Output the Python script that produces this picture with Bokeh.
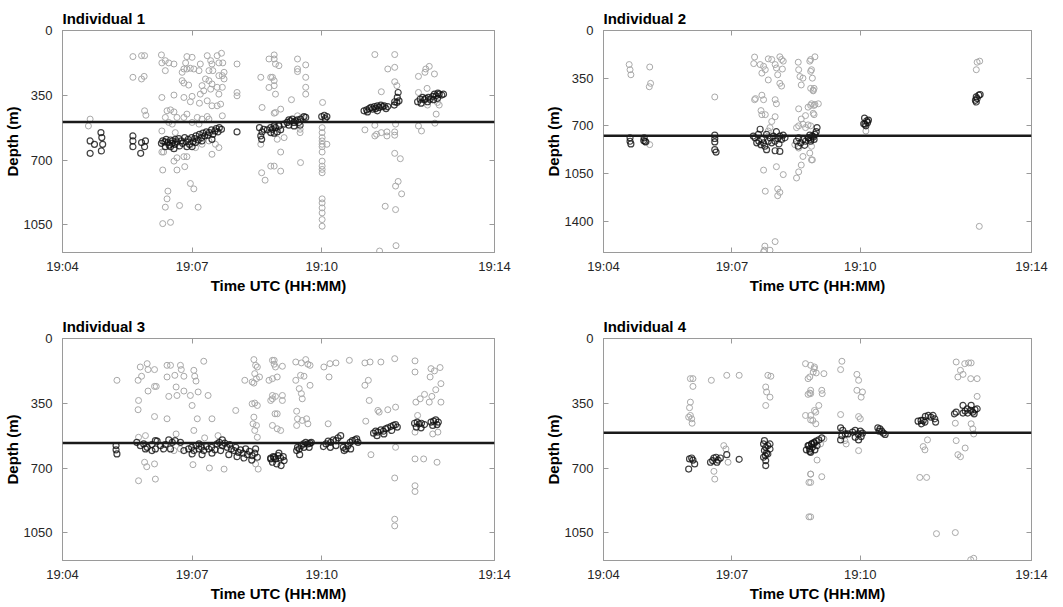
from bokeh.plotting import figure
from bokeh.layouts import column, row
from bokeh.models import Range1d, FixedTicker, LinearAxis, Span, CustomJSTickFormatter
from bokeh.embed import file_html
from bokeh.resources import INLINE

# ---------------- data (time = minutes after 19:00 UTC, depth in m) ----------------
tick_minutes = [4, 7, 10, 14]
tick_labels = ["19:04", "19:07", "19:10", "19:14"]
titles = ["Individual 1", "Individual 2", "Individual 3", "Individual 4"]
ref_depths = [494, 772, 565, 510]
depth_max = [1200, 1630, 1200, 1200]
depth_ticks = [[0, 350, 700, 1050], [0, 350, 700, 1050, 1400], [0, 350, 700, 1050], [0, 350, 700, 1050]]

# ---- Individual 1 ----
p1_grey_t = [4.64, 4.60, 5.63, 5.83, 5.90, 5.63, 5.83, 5.89, 5.90, 5.93,
             6.29, 6.30, 6.38, 6.38, 6.46, 6.58, 6.88, 7.00, 6.85, 6.81, 6.88, 6.96, 7.04, 6.77, 7.19, 7.16,
             7.35, 7.43, 7.46, 7.58, 7.68, 7.62, 7.71, 7.39, 7.48, 7.62, 7.70, 7.74, 7.74, 7.70, 7.58, 7.46,
             7.39, 7.31, 7.23, 7.27, 7.19, 7.43, 7.62, 6.77, 6.81, 6.92, 6.58, 6.30, 6.81, 7.00, 6.96, 7.17,
             7.35, 7.46, 7.58, 7.66, 6.42, 6.50, 6.58, 6.38, 6.54, 6.65, 6.81, 6.88, 7.00, 7.12, 7.16, 7.23,
             7.35, 7.39, 7.70, 6.46, 6.30, 6.61,
             6.30, 6.34, 6.58, 6.65, 6.81, 6.88, 6.32, 6.65, 6.83, 6.96, 7.04, 6.44, 6.42, 6.38, 6.71, 7.14,
             6.32, 6.50, 7.46, 7.62, 7.08, 7.23, 7.39, 7.54,
             8.04, 8.04, 8.04,
             8.59, 8.78, 8.82, 8.78, 8.90, 8.62, 8.90, 8.59, 8.61, 8.69, 8.82,
             8.90, 8.93, 9.01, 8.86, 8.90, 8.90, 8.93, 9.44, 9.44, 9.44, 9.63, 9.63, 9.63, 9.63, 9.30, 9.05,
             8.93, 9.44, 9.55, 9.13, 9.05, 9.05, 9.51, 8.90, 8.97, 9.50, 9.50, 10.02,
             10.01, 10.01, 10.01, 10.01, 10.01, 10.01, 10.01, 10.01, 10.01, 10.01, 10.01, 10.01, 10.01,
             10.01, 10.01, 10.01, 10.01, 10.12,
             11.23, 11.69, 11.53, 11.69, 11.69, 11.74, 11.38, 11.00, 11.23, 11.27, 11.23, 11.38, 11.51,
             11.51, 11.71, 11.69, 11.69, 11.69, 11.82, 11.77, 11.71, 11.85, 11.47, 11.71, 11.72, 11.34,
             12.24, 12.41, 12.49, 12.39, 12.61, 12.44, 12.24, 12.65, 12.24, 12.31, 12.62, 12.45, 12.72, 12.68]
p1_grey_d = [479, 516, 141, 136, 136, 253, 262, 248, 434, 458,
             132, 175, 163, 217, 175, 181, 141, 145, 175, 208, 208, 204, 208, 226, 181, 217,
             136, 163, 181, 136, 123, 175, 175, 217, 217, 244, 244, 226, 262, 307, 307, 289,
             271, 262, 298, 326, 344, 317, 344, 271, 284, 295, 349, 362, 362, 356, 385, 393,
             380, 407, 407, 398, 434, 429, 440, 470, 506, 470, 470, 452, 497, 470, 506, 479,
             465, 479, 461, 497, 543, 552,
             657, 657, 706, 688, 682, 682, 754, 754, 736, 827, 856, 868, 910, 955, 946, 955,
             1044, 1037, 669, 633, 633, 615, 597, 615,
             181, 335, 353,
             253, 154, 253, 308, 154, 416, 447, 615, 769, 809, 733,
             132, 181, 190, 253, 271, 298, 344, 154, 208, 222, 186, 253, 307, 344, 374, 425,
             443, 461, 470, 579, 657, 760, 714, 733, 588, 552, 534, 389,
             525, 552, 579, 597, 615, 628, 657, 706, 733, 751, 769, 910, 932,
             959, 986, 1022, 1058, 615,
             130, 130, 208, 199, 277, 298, 331, 537, 512, 561, 570, 552, 548,
             570, 506, 548, 566, 664, 693, 816, 841, 883, 950, 968, 1163, 1192,
             248, 208, 194, 226, 235, 313, 335, 452, 516, 543, 501, 403, 403, 389]
p1_fish_t = [4.64, 4.74, 4.64, 4.89, 4.91, 4.93, 4.90,
             5.63, 5.63, 5.63, 5.83, 5.81, 5.92, 5.90,
             6.29, 6.32, 6.37, 6.40, 6.44, 6.47, 6.50, 6.54, 6.55, 6.60, 6.61, 6.65, 6.69, 6.71, 6.75, 6.78,
             6.83, 6.86, 6.91, 6.94, 6.99, 7.02, 7.06, 7.09, 7.14, 7.17, 7.22, 7.25, 7.29, 7.33, 7.37, 7.40,
             7.45, 7.48, 7.53, 7.56, 7.60, 7.63, 7.68, 6.58, 6.50, 7.00, 7.08, 7.23, 7.46, 6.38, 6.88,
             8.04,
             8.56, 8.62, 8.66, 8.74, 8.82, 8.90, 8.59, 8.61, 8.86, 8.93, 9.01, 8.90, 8.97, 9.05, 8.82, 9.13,
             9.20, 9.24, 9.28, 9.32, 9.36, 9.40, 9.44, 9.47, 9.51, 9.59, 9.63, 9.24, 9.36, 9.50,
             10.00, 10.06, 10.12, 10.08,
             10.98, 11.04, 11.10, 11.14, 11.18, 11.22, 11.25, 11.29, 11.33, 11.37, 11.41, 11.45, 11.49,
             11.53, 11.06, 11.29,
             11.69, 11.74, 11.79, 11.68, 11.75, 11.77,
             12.22, 12.28, 12.34, 12.38, 12.41, 12.47, 12.51, 12.57, 12.61, 12.65, 12.69, 12.72, 12.78,
             12.82, 12.30, 12.45, 12.59, 12.68]
p1_fish_d = [597, 615, 664, 552, 579, 615, 651,
             570, 597, 628, 606, 664, 597, 628,
             610, 597, 602, 588, 606, 620, 592, 610, 597, 615, 588, 602, 584, 624, 597, 610,
             579, 602, 588, 615, 579, 602, 584, 570, 592, 561, 579, 555, 570, 548, 566, 552,
             537, 561, 543, 530, 548, 525, 534, 639, 628, 628, 606, 597, 588, 628, 628,
             548,
             525, 548, 534, 537, 525, 516, 570, 588, 534, 525, 516, 555, 548, 537, 552, 506,
             497, 483, 488, 479, 497, 488, 483, 497, 479, 465, 470, 512, 516, 512,
             465, 458, 465, 476,
             434, 429, 422, 416, 425, 411, 422, 407, 416, 403, 412, 407, 422,
             411, 440, 434,
             385, 389, 380, 403, 362, 335,
             385, 371, 362, 374, 367, 362, 371, 356, 344, 353, 338, 344, 349,
             344, 393, 385, 374, 367]

# ---- Individual 2 ----
p2_grey_t = [4.60, 4.62, 4.64, 5.08, 5.10, 5.07, 6.60, 5.08,
             7.53, 7.51, 7.66, 7.74, 7.70, 7.78, 7.85, 7.93, 8.01, 8.04, 8.12, 8.16, 8.20, 8.07, 8.18, 8.16,
             8.12, 7.85, 7.70, 7.74, 7.68, 7.53, 7.55, 8.01, 8.04, 7.93, 8.01, 7.78, 7.70, 7.89, 7.85,
             7.74, 8.04, 8.20, 7.78, 8.07, 8.12, 8.07, 7.77, 7.76, 7.89, 8.01, 7.74,
             8.55, 8.56, 8.59, 8.62, 8.66, 8.82, 8.86, 8.84, 8.90, 8.56, 8.62, 8.66, 8.72, 8.78, 8.86, 8.92,
             8.90, 8.56, 8.51, 8.72, 8.78, 8.66, 8.62, 8.56, 8.51, 8.86, 8.82, 8.56, 8.47, 8.86,
             8.84, 8.94, 8.84, 8.88, 8.92, 8.90, 8.84, 8.94, 9.02, 8.92, 8.84, 8.88,
             10.13, 12.73, 12.79, 12.71, 12.78]
p2_grey_d = [250, 288, 325, 268, 388, 413, 488, 838,
             195, 243, 250, 263, 313, 288, 208, 213, 250, 275, 193, 213, 225, 325, 283, 408,
             388, 363, 475, 508, 588, 508, 500, 508, 538, 668, 633, 618, 618, 713, 738,
             1025, 1000, 1058, 1180, 1163, 1188, 1213, 1583, 1613, 1613, 1550, 1625,
             233, 288, 338, 400, 350, 225, 288, 425, 438, 575, 650, 688, 625, 563, 538, 550,
             608, 700, 713, 713, 693, 925, 988, 1038, 1083, 950, 900, 863, 838, 850,
             213, 193, 300, 350, 425, 443, 550, 543, 538, 618, 700, 950,
             738, 233, 225, 288, 1438]
p2_fish_t = [4.62, 4.62, 4.64, 4.95, 4.97, 4.99, 4.94,
             6.60, 6.60, 6.60, 6.63, 6.60,
             7.50, 7.54, 7.62, 7.63, 7.70, 7.74, 7.77, 7.81, 7.85, 7.89, 7.93, 7.97, 8.01, 8.04, 8.07, 8.10,
             8.12, 8.16, 8.20, 8.24, 7.66, 7.81, 8.01, 8.12, 7.68, 7.58,
             8.51, 8.56, 8.61, 8.66, 8.72, 8.78, 8.84, 8.90, 8.55, 8.70, 8.82,
             8.80, 8.88, 8.94, 8.99, 8.97, 8.84, 8.92,
             10.10, 10.15, 10.17, 10.11, 10.19, 10.13, 10.08,
             12.71, 12.77, 12.80, 12.69, 12.73, 12.71]
p2_fish_d = [788, 813, 833, 788, 813, 818, 808,
             768, 818, 875, 893, 793,
             775, 788, 763, 813, 800, 825, 850, 763, 813, 788, 825, 775, 813, 743, 793, 833,
             775, 800, 768, 788, 725, 875, 883, 888, 838, 825,
             813, 788, 825, 800, 813, 788, 800, 783, 850, 843, 768,
             788, 775, 763, 713, 743, 813, 800,
             643, 663, 675, 688, 658, 700, 685,
             488, 475, 470, 513, 500, 525]

# ---- Individual 3 ----
p3_grey_t = [5.26, 5.75, 5.76, 5.75, 5.83, 5.80, 5.96, 5.98, 6.13, 5.98, 6.13, 6.17, 6.13, 5.92, 5.76,
             5.90, 5.95, 6.13, 6.15, 5.76,
             6.42, 6.50, 6.42, 6.60, 6.63, 6.73, 6.75, 6.81, 6.65, 6.46, 6.81, 6.96, 7.06, 7.09, 7.04, 7.27,
             7.14, 7.00, 7.37, 7.12, 7.46, 7.04, 6.42, 6.63, 7.29, 7.60, 6.73, 6.58,
             7.02, 7.40, 7.74, 8.01, 8.22,
             8.43, 8.47, 8.51, 8.45, 8.49, 8.43, 8.39, 8.45, 8.51, 8.43, 8.41, 8.49, 8.45, 8.51, 8.47, 8.53,
             8.39, 8.56, 8.78, 8.86, 8.82, 8.92, 8.90,
             8.86, 8.90, 8.93, 8.86, 8.97, 9.09, 8.93, 9.09, 8.86, 9.09, 8.97, 8.86, 8.97, 9.05,
             9.40, 9.53, 9.63, 9.68, 9.73, 9.40, 9.51, 9.59, 9.73, 9.48, 9.53, 9.55, 9.42, 9.44, 9.42, 9.55,
             9.68, 9.65,
             10.05, 10.19, 10.33, 10.64, 10.17, 10.15,
             11.00, 11.12, 11.37, 11.69, 11.00, 11.08, 11.10, 11.02, 11.30, 11.33, 11.53, 11.71, 11.14,
             11.71, 11.69, 11.69, 11.69,
             12.16, 12.16, 12.53, 12.61, 12.51, 12.74, 12.76, 12.64, 12.55, 12.38, 12.28, 12.18, 12.49,
             12.76, 12.22, 12.16, 12.36, 12.67, 12.16, 12.16, 12.16, 12.57, 12.69]
p3_grey_d = [226, 226, 335, 385, 204, 154, 136, 168, 168, 284, 259, 259, 422, 525, 534,
             669, 693, 678, 760, 769,
             145, 145, 208, 199, 262, 145, 168, 204, 308, 313, 284, 308, 204, 230, 172, 123,
             289, 362, 308, 434, 434, 497, 434, 516, 537, 525, 597, 606,
             682, 700, 706, 389, 226,
             114, 145, 154, 190, 217, 241, 353, 349, 362, 425, 461, 470, 497, 534, 678, 706,
             235, 208, 226, 308, 335, 407, 118,
             118, 139, 154, 217, 208, 150, 313, 308, 326, 335, 407, 470, 488, 497,
             127, 132, 114, 139, 145, 226, 199, 204, 253, 271, 298, 326, 393, 434, 470, 443,
             461, 434,
             154, 136, 132, 118, 208, 461,
             132, 127, 127, 109, 253, 226, 335, 447, 389, 398, 385, 371, 628,
             588, 754, 977, 1013,
             121, 181, 163, 175, 208, 157, 244, 277, 313, 302, 326, 344, 344,
             344, 416, 651, 651, 669, 796, 827, 506, 516, 506]
p3_fish_t = [5.24, 5.24, 5.26,
             5.72, 5.80, 5.88, 5.96, 6.07, 6.15, 6.19, 6.27, 6.34, 6.46, 6.54, 6.61, 6.73, 5.92, 6.15, 6.38,
             6.50, 6.81, 6.07,
             6.92, 6.99, 7.04, 7.09, 7.16, 7.22, 7.27, 7.33, 7.39, 7.45, 7.53, 7.58, 7.63, 7.70, 7.76, 7.81,
             7.87, 7.91, 7.97, 8.01, 8.07, 8.12, 8.18, 8.24, 8.28, 8.33, 8.39, 8.45, 8.51, 7.00, 7.23, 7.46,
             7.66, 7.85, 8.04, 8.20, 8.38, 8.47, 7.16, 7.70,
             8.82, 8.90, 8.82, 8.88, 8.93, 8.99, 9.05, 9.11, 8.86, 8.96, 9.06, 9.01, 9.13,
             9.42, 9.48, 9.53, 9.58, 9.63, 9.68, 9.73, 9.76, 9.44, 9.59, 9.49, 9.71,
             10.04, 10.10, 10.15, 10.21, 10.27, 10.33, 10.38, 10.44, 10.50, 10.56, 10.61, 10.66, 10.71,
             10.77, 10.81, 10.84, 10.52, 10.67, 10.33, 10.20,
             11.20, 11.25, 11.30, 11.37, 11.43, 11.48, 11.53, 11.60, 11.66, 11.71, 11.75, 11.28, 11.44,
             11.62,
             12.15, 12.21, 12.26, 12.31, 12.38, 12.19, 12.30,
             12.53, 12.59, 12.64, 12.70, 12.57, 12.67]
p3_fish_d = [579, 602, 624,
             561, 579, 570, 588, 573, 552, 555, 579, 597, 548, 561, 552, 561, 597, 597, 573,
             597, 606, 606,
             597, 588, 606, 579, 597, 588, 606, 584, 597, 588, 602, 570, 561, 579, 566, 588,
             573, 597, 606, 588, 615, 602, 620, 597, 628, 610, 633, 620, 642, 624, 628, 620,
             606, 628, 639, 646, 657, 597, 570, 548,
             651, 642, 646, 639, 651, 633, 646, 639, 669, 678, 687, 620, 660,
             606, 597, 579, 570, 561, 570, 566, 561, 588, 588, 628, 588,
             584, 570, 555, 561, 548, 552, 537, 525, 588, 597, 579, 561, 552,
             548, 543, 561, 606, 597, 579, 588,
             512, 501, 506, 494, 501, 488, 483, 476, 470, 465, 479, 525, 516,
             497,
             458, 452, 461, 458, 465, 479, 483,
             452, 447, 440, 452, 470, 465]

# ---- Individual 4 ----
p4_grey_t = [6.03, 6.09, 6.09, 6.03, 6.01, 6.03, 6.06, 6.07, 5.99,
             6.52, 6.88, 7.17, 6.81, 6.86, 6.58, 6.60, 6.91,
             7.79, 7.81, 7.89, 7.79, 7.84, 7.91,
             8.72, 8.78, 8.82, 8.78, 8.72, 8.84, 8.90, 8.84, 8.80, 8.80, 8.93, 8.93,
             8.84, 8.92, 8.97, 9.15, 8.82, 8.84, 8.84, 9.10, 9.11, 9.03, 8.96, 8.89, 8.96, 8.84, 8.99, 9.10,
             8.84, 8.84, 8.84, 9.15, 9.07,
             9.57, 9.54, 9.92, 9.96, 9.92, 10.05, 10.02, 9.54, 9.96, 10.00, 9.96, 9.64, 9.67,
             11.39, 11.55, 11.47, 11.51, 11.57, 11.78, 12.22, 12.24, 12.28, 12.34, 12.45, 12.22, 12.24,
             12.28, 12.34, 12.40, 12.44, 12.53, 12.59, 12.58, 12.73, 12.73, 12.59, 12.63, 12.65, 12.65,
             12.58]
p4_grey_d = [217, 217, 259, 344, 374, 416, 434, 458, 425,
             226, 199, 199, 579, 597, 718, 760, 669,
             262, 289, 317, 362, 199, 204,
             136, 217, 295, 302, 416, 440, 181, 733, 778, 964, 154, 389,
             145, 163, 186, 190, 208, 280, 298, 280, 298, 362, 398, 443, 461, 416, 657, 747,
             733, 778, 964, 543, 570,
             123, 168, 194, 226, 280, 289, 317, 411, 422, 434, 606, 552, 570,
             751, 751, 584, 602, 548, 1055, 1049, 552, 628, 639, 592, 458, 127,
             208, 172, 194, 136, 132, 132, 217, 217, 313, 461, 488, 516, 1188,
             1196]
p4_fish_t = [6.01, 6.06, 6.09, 5.99, 6.13,
             6.50, 6.58, 6.63, 6.68, 6.73, 6.55, 6.88, 7.17, 6.65,
             7.74, 7.79, 7.84, 7.89, 7.76, 7.81, 7.78, 7.74, 7.79, 7.84, 7.79, 7.89, 7.76,
             8.78, 8.82, 8.84, 8.87, 8.92, 8.74,
             8.80, 8.86, 8.92, 8.97, 9.03, 9.10, 8.88, 8.99, 8.82, 8.94,
             9.54, 9.59, 9.65, 9.57, 9.54, 9.82, 9.88, 9.95, 10.00, 10.05, 9.88, 9.96, 10.02, 9.71,
             10.41, 10.46, 10.50, 10.54, 10.58, 10.44,
             11.35, 11.42, 11.47, 11.52, 11.59, 11.65, 11.70, 11.74, 11.76, 11.43, 11.51,
             12.20, 12.24, 12.40, 12.45, 12.51, 12.58, 12.63, 12.68, 12.73, 12.40, 12.59, 12.50, 12.66]
p4_fish_d = [651, 646, 657, 706, 678,
             669, 646, 642, 657, 646, 660, 628, 653, 669,
             570, 588, 579, 570, 606, 620, 633, 642, 660, 624, 687, 597, 552,
             579, 597, 615, 570, 566, 602,
             579, 570, 561, 555, 548, 537, 588, 579, 610, 602,
             483, 497, 516, 525, 548, 506, 497, 516, 501, 512, 534, 548, 530, 516,
             483, 488, 501, 512, 519, 501,
             447, 443, 443, 421, 416, 425, 416, 434, 452, 461, 452,
             407, 398, 403, 392, 403, 389, 398, 385, 380, 362, 362, 380, 407]

grey_t = [p1_grey_t, p2_grey_t, p3_grey_t, p4_grey_t]
grey_d = [p1_grey_d, p2_grey_d, p3_grey_d, p4_grey_d]
fish_t = [p1_fish_t, p2_fish_t, p3_fish_t, p4_fish_t]
fish_d = [p1_fish_d, p2_fish_d, p3_fish_d, p4_fish_d]

# ---------------- styling / layout ----------------
FONT = "Liberation Sans"
TXT = "#262626"
BOX = "#9a9a9a"

sizes = [  # width, height, left, right, top, bottom
    (541, 308, 62, 47, 30, 56),
    (512, 308, 62, 22, 30, 56),
    (541, 297, 62, 47, 30, 45),
    (512, 297, 62, 22, 30, 45),
]

blank = CustomJSTickFormatter(code="return ''")


def make_panel(i):
    w, h, bl, br, bt, bb = sizes[i]
    p = figure(width=w, height=h, output_backend="svg", toolbar_location=None,
               x_range=Range1d(4, 14), y_range=Range1d(depth_max[i], 0),
               min_border_left=bl, min_border_right=br, min_border_top=bt, min_border_bottom=bb,
               title=titles[i])
    p.background_fill_color = "white"
    p.border_fill_color = "white"
    p.outline_line_color = BOX
    p.outline_line_width = 1
    p.grid.visible = False

    p.title.text_font = FONT
    p.title.text_font_size = "15px"
    p.title.text_font_style = "bold"
    p.title.text_color = "black"
    p.title.align = "left"
    p.title.standoff = 7
    p.title.offset = 0

    xt = FixedTicker(ticks=tick_minutes)
    yt = FixedTicker(ticks=depth_ticks[i])
    xa = p.xaxis[0]
    ya = p.yaxis[0]
    xa.ticker = xt
    ya.ticker = yt
    xa.major_label_overrides = {m: lab for m, lab in zip(tick_minutes, tick_labels)}
    xa.axis_label = "Time UTC (HH:MM)"
    ya.axis_label = "Depth (m)"
    for ax in (xa, ya):
        ax.axis_line_color = BOX
        ax.major_tick_line_color = BOX
        ax.major_tick_in = 5
        ax.major_tick_out = 0
        ax.minor_tick_line_color = None
        ax.major_label_text_font = FONT
        ax.major_label_text_font_size = "13px"
        ax.major_label_text_color = TXT
        ax.axis_label_text_font = FONT
        ax.axis_label_text_font_size = "15px"
        ax.axis_label_text_font_style = "bold"
        ax.axis_label_text_color = "black"
    xa.major_label_standoff = 6
    xa.axis_label_standoff = 0
    ya.major_label_standoff = 10
    ya.axis_label_standoff = 0

    # mirrored ticks on top and right (box)
    ra = LinearAxis(ticker=yt, formatter=blank, axis_line_color=BOX, major_tick_line_color=BOX,
                    major_tick_in=5, major_tick_out=0, minor_tick_line_color=None,
                    major_label_standoff=0, major_label_text_font_size="1px")
    ta = LinearAxis(ticker=xt, formatter=blank, axis_line_color=BOX, major_tick_line_color=BOX,
                    major_tick_in=5, major_tick_out=0, minor_tick_line_color=None,
                    major_label_standoff=0, major_label_text_font_size="1px")
    p.add_layout(ra, "right")
    p.add_layout(ta, "above")

    p.scatter(grey_t[i], grey_d[i], marker="circle", size=6, fill_color=None,
              line_color="#a9a9a9", line_width=1)
    p.scatter(fish_t[i], fish_d[i], marker="circle", size=6, fill_color=None,
              line_color="#111111", line_alpha=0.8, line_width=1.2)
    p.add_layout(Span(location=ref_depths[i], dimension="width", line_color="#1a1a1a", line_width=2.5))
    return p


panels = [make_panel(i) for i in range(4)]
layout = column(row(panels[0], panels[1]), row(panels[2], panels[3]))
open("out.html", "w").write(file_html(layout, INLINE))
